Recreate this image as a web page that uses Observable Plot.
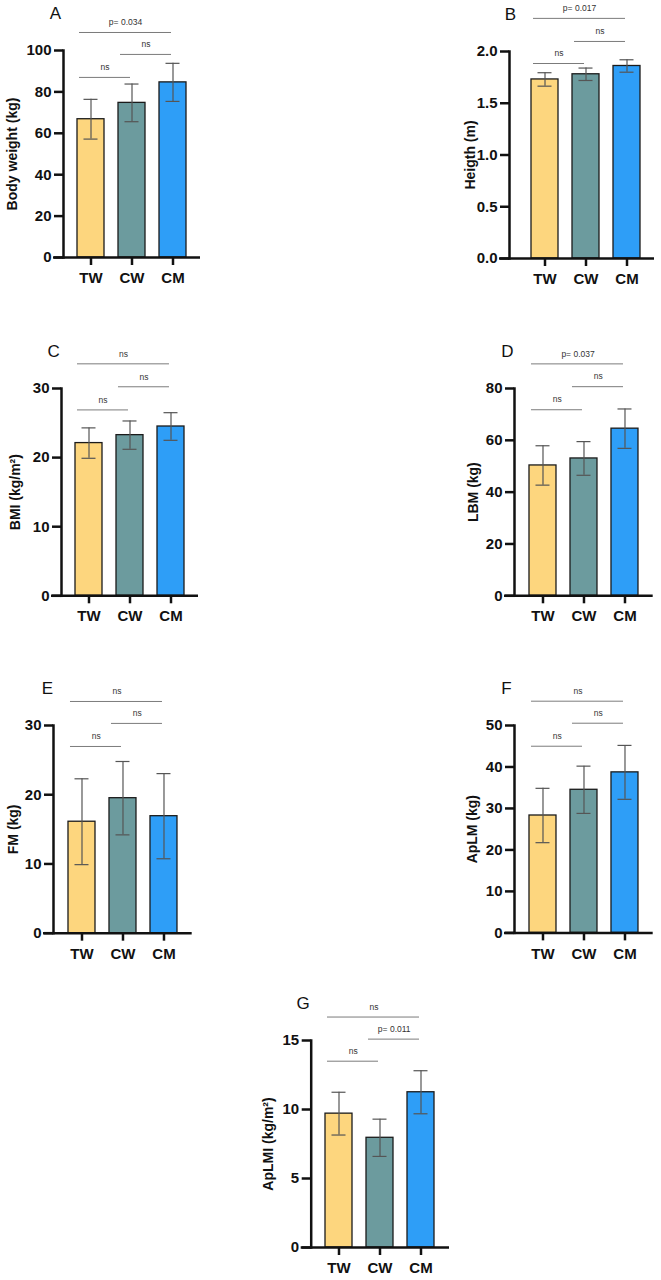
<!DOCTYPE html>
<html><head><meta charset="utf-8">
<script src="https://cdn.jsdelivr.net/npm/d3@7"></script>
<script src="https://cdn.jsdelivr.net/npm/@observablehq/plot@0.6"></script>
<style>
body{margin:0;background:#fff;}
#fig{position:relative;width:661px;height:1280px;overflow:hidden;font-family:"Liberation Sans",Arial,sans-serif;}
#fig svg{position:absolute;overflow:visible;}
</style></head><body><div id="fig"></div>
<script>
const groups = ["TW", "CW", "CM"];
const groupColors = ["#FDD67E", "#6C9B9E", "#2E9EF7"];
const bracketFrom = ["TW", "CW", "TW"];
const bracketTo = ["CM", "CM", "CW"];

// A – Body weight
const bwMean = [66.8, 74.7, 84.6], bwSD = [9.6, 9.1, 9.2];
const bwTicks = [0, 20, 40, 60, 80, 100];
const bwLabels = ["p= 0.034", "ns", "ns"], bwLevels = [108.7, 98.1, 87.0];
// B – Height
const htMean = [1.73, 1.78, 1.86], htSD = [0.065, 0.06, 0.06];
const htTicks = [0, 0.5, 1.0, 1.5, 2.0];
const htLabels = ["p= 0.017", "ns", "ns"], htLevels = [2.32, 2.097, 1.884];
// C – BMI
const bmiMean = [22.1, 23.25, 24.5], bmiSD = [2.2, 2.05, 2.0];
const bmiTicks = [0, 10, 20, 30];
const bmiLabels = ["ns", "ns", "ns"], bmiLevels = [33.57, 30.25, 26.9];
// D – LBM
const lbmMean = [50.3, 53.0, 64.5], lbmSD = [7.6, 6.5, 7.6];
const lbmTicks = [0, 20, 40, 60, 80];
const lbmLabels = ["p= 0.037", "ns", "ns"], lbmLevels = [89.5, 80.7, 71.8];
// E – FM
const fmMean = [16.1, 19.5, 16.9], fmSD = [6.2, 5.3, 6.15];
const fmTicks = [0, 10, 20, 30];
const fmLabels = ["ns", "ns", "ns"], fmLevels = [33.47, 30.3, 26.97];
// F – ApLM
const aplmMean = [28.3, 34.5, 38.7], aplmSD = [6.55, 5.7, 6.5];
const aplmTicks = [0, 10, 20, 30, 40, 50];
const aplmLabels = ["ns", "ns", "ns"], aplmLevels = [55.86, 50.55, 45.0];
// G – ApLMI
const aplmiMean = [9.7, 7.95, 11.25], aplmiSD = [1.55, 1.35, 1.56];
const aplmiTicks = [0, 5, 10, 15];
const aplmiLabels = ["ns", "p= 0.011", "ns"], aplmiLevels = [16.7, 15.1, 13.5];

const panels = [
  {key: "A", title: "Body weight (kg)", mean: bwMean, sd: bwSD, ticks: bwTicks, labels: bwLabels, levels: bwLevels, max: 100, fmt: d3.format("d"),
   left: 0, axisX: 63, right: 200, top: 50, bottom: 257, xInsetLeft: 0, labelDx: -8, titleDx: -51},
  {key: "B", title: "Heigth (m)", mean: htMean, sd: htSD, ticks: htTicks, labels: htLabels, levels: htLevels, max: 2.0, fmt: d3.format(".1f"),
   left: 430, axisX: 509, right: 654, top: 51, bottom: 258, xInsetLeft: 8, labelDx: 1, titleDx: -39},
  {key: "C", title: "BMI (kg/m²)", mean: bmiMean, sd: bmiSD, ticks: bmiTicks, labels: bmiLabels, levels: bmiLevels, max: 30, fmt: d3.format("d"),
   left: 0, axisX: 61, right: 198, top: 387.7, bottom: 595, xInsetLeft: 0, labelDx: -8, titleDx: -46},
  {key: "D", title: "LBM (kg)", mean: lbmMean, sd: lbmSD, ticks: lbmTicks, labels: lbmLabels, levels: lbmLevels, max: 80, fmt: d3.format("d"),
   left: 430, axisX: 514, right: 652.7, top: 387.7, bottom: 595, xInsetLeft: 0, labelDx: -7, titleDx: -41},
  {key: "E", title: "FM (kg)", mean: fmMean, sd: fmSD, ticks: fmTicks, labels: fmLabels, levels: fmLevels, max: 30, fmt: d3.format("d"),
   left: 0, axisX: 53, right: 191.7, top: 725, bottom: 932.7, xInsetLeft: 0, labelDx: -6, titleDx: -40},
  {key: "F", title: "ApLM (kg)", mean: aplmMean, sd: aplmSD, ticks: aplmTicks, labels: aplmLabels, levels: aplmLevels, max: 50, fmt: d3.format("d"),
   left: 430, axisX: 514, right: 652.7, top: 725.3, bottom: 932.7, xInsetLeft: 0, labelDx: -8, titleDx: -42},
  {key: "G", title: "ApLMI (kg/m²)", mean: aplmiMean, sd: aplmiSD, ticks: aplmiTicks, labels: aplmiLabels, levels: aplmiLevels, max: 15, fmt: d3.format("d"),
   left: 240, axisX: 310.7, right: 449, top: 1040.3, bottom: 1247.3, xInsetLeft: 0, labelDx: -8, titleDx: -43}
];

const pad = 0.34;
const font = "'Liberation Sans', Arial, Helvetica, sans-serif";
const fig = document.getElementById("fig");

for (const p of panels) {
  const rows = groups.map((g, i) => ({group: g, mean: p.mean[i], lo: p.mean[i] - p.sd[i], hi: p.mean[i] + p.sd[i], color: groupColors[i]}));
  const br = bracketFrom.map((f, i) => ({from: f, to: bracketTo[i], label: p.labels[i], y: p.levels[i]}));
  const MT = 50, MB = 45, MR = 10;
  const ML = p.axisX - p.left;
  const W = p.right - p.left + MR;
  const H = MT + (p.bottom - p.top) + MB;
  const step = (p.right - p.axisX - p.xInsetLeft) / (groups.length + pad);
  const chart = Plot.plot({
    width: W, height: H,
    marginLeft: ML, marginRight: MR, marginTop: MT, marginBottom: MB,
    style: {fontFamily: font, background: "transparent", overflow: "visible", color: "#111"},
    x: {domain: groups, padding: pad, insetLeft: p.xInsetLeft},
    y: {domain: [0, p.max]},
    color: {type: "identity"},
    marks: [
      Plot.barY(rows, {x: "group", y: "mean", fill: "color", stroke: "#1b1b1b", strokeWidth: 1.3}),
      Plot.ruleX(rows, {x: "group", y1: "lo", y2: "hi", stroke: "#555", strokeWidth: 1.2}),
      Plot.tickY(rows, {x: "group", y: "hi", inset: 6.5, stroke: "#555", strokeWidth: 1.2}),
      Plot.tickY(rows, {x: "group", y: "lo", inset: 6.5, stroke: "#555", strokeWidth: 1.2}),
      Plot.axisY({ticks: p.ticks, tickFormat: p.fmt, tickSize: 9, tickPadding: 3, fontSize: 15, fontWeight: "bold", strokeWidth: 2.5, label: null}),
      Plot.axisX({tickSize: 8, tickPadding: 7, fontSize: 15, fontWeight: "bold", strokeWidth: 2.5, label: null}),
      Plot.frame({anchor: "left", strokeWidth: 2.5}),
      Plot.ruleY([0], {insetLeft: -10, strokeWidth: 2.5}),
      Plot.ruleY(br, {x1: "from", x2: "to", y: "y", insetLeft: 2, insetRight: 15, stroke: "#7b7b7b", strokeWidth: 1}),
      ...br.map(b => Plot.text([b], {
        x: "from", y: "y", text: "label",
        dx: (groups.indexOf(b.to) - groups.indexOf(b.from)) * step / 2 - 6.5,
        dy: -10, fontSize: 8.5, fill: "#333"
      })),
      Plot.text([p.key], {frameAnchor: "top-left", dx: p.labelDx, dy: -37, fontSize: 17, textAnchor: "middle", lineAnchor: "middle", fill: "#111"}),
      Plot.text([p.title], {frameAnchor: "left", dx: p.titleDx, rotate: -90, fontSize: 14, fontWeight: "bold", textAnchor: "middle", lineAnchor: "middle", fill: "#111"})
    ]
  });
  chart.style.left = p.left + "px";
  chart.style.top = (p.top - MT) + "px";
  fig.appendChild(chart);
}
</script>
</body></html>
